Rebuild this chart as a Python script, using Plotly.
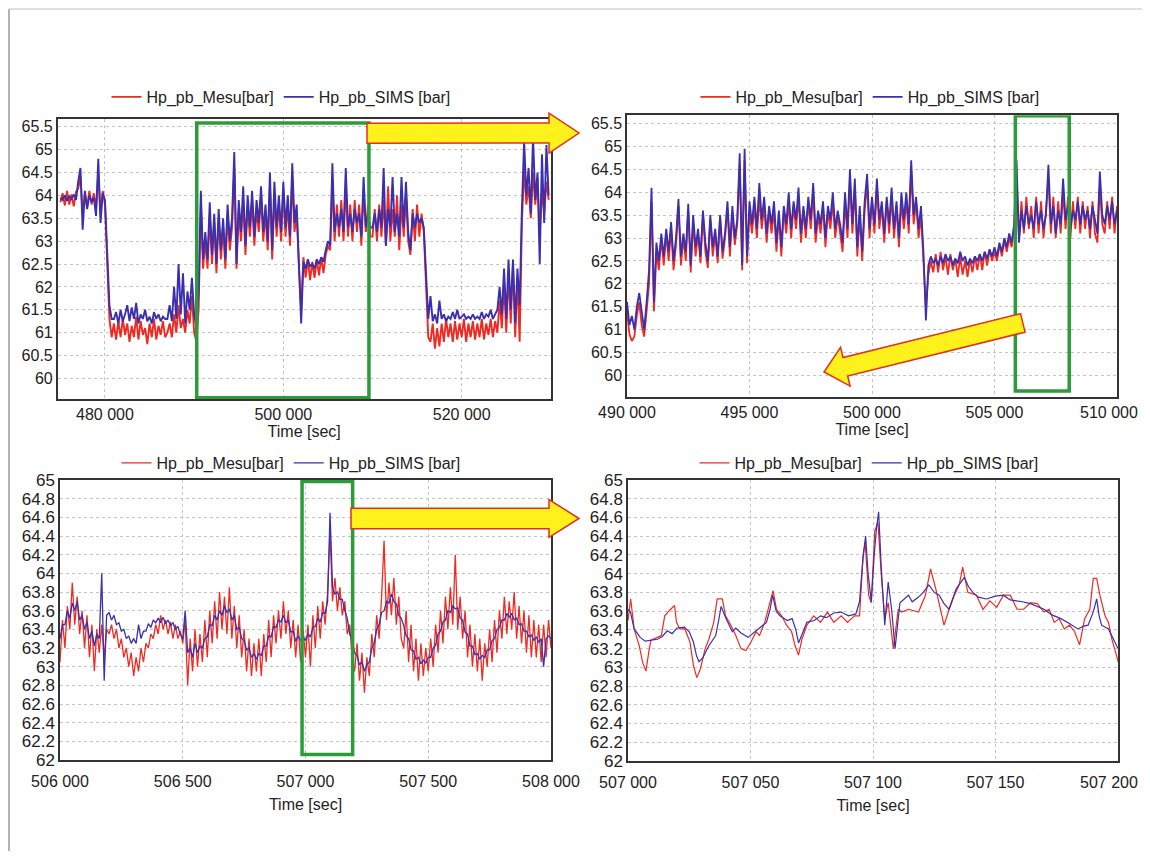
"""
Hp_pb pressure: measured vs SIMS, four successive zoom levels
"""

import math

import numpy as np
import plotly.graph_objects as go

# the page body keeps its 8 px margin, so the figure is drawn 8 px in
PAGE_W, PAGE_H, BODY = 1150, 859, 8
W, H = PAGE_W - BODY, PAGE_H - 2 * BODY
FONT = 'Liberation Sans, Arial, sans-serif'
RED = '#ee2a22'
BLUE = '#3a2fae'
GREEN = '#2c9c3a'
YELLOW = '#fff21c'
ARROW_EDGE = '#e3301c'
MESU_NAME = 'Hp_pb_Mesu[bar]'
SIMS_NAME = 'Hp_pb_SIMS [bar]'

# ---------------------------------------------------------------- panel 1
# 475 000 .. 529 750 s, one sample every 250 s
T1_START, T1_STEP = 475000, 250
mesu1 = [
    63.85, 64.05, 63.78, 64.1, 63.8, 64.02, 63.76, 64.08, 64.15, 64.4,
    63.6, 64.05, 63.75, 64.1, 63.8, 64.05, 63.7, 64.5, 63.6, 64.1,
    63.8, 62.6, 61.3, 60.9,
    61.2, 60.85, 61.25, 60.9, 61.3, 60.95, 61.2, 60.8, 61.15, 60.9, 61.35, 60.85,
    61.25, 60.95, 61.1, 60.75, 61.2, 60.9, 61.3, 60.85, 61.15, 60.95, 61.25, 60.9,
    61.0, 61.2, 60.9, 61.4, 61.0, 61.6, 61.1, 61.3, 61.0, 61.5, 61.2, 61.8,
    61.0, 60.8, 61.5, 63.8,
    62.4, 63.0, 62.4, 63.6, 62.5, 63.4, 62.3, 63.5, 62.6, 63.3, 62.4, 63.6, 62.8, 63.3,
    64.6, 62.4,
    63.7, 63.0, 63.9, 62.7, 63.8, 63.1, 63.9, 62.9, 63.7, 63.2, 64.0, 63.0, 63.6, 62.8,
    64.2, 62.6, 64.0, 63.1, 63.8, 63.0, 64.1, 63.1, 63.8, 62.9, 64.4, 63.2, 63.6,
    62.4, 61.5,
    62.65, 62.2, 62.6, 62.15, 62.55, 62.2, 62.6, 62.25, 62.65, 62.3,
    62.7, 62.9, 62.8,
    64.3,
    63.0, 63.8, 63.1, 63.9, 63.0, 64.2, 63.1, 63.8, 63.0, 63.9, 63.2, 63.8, 62.9, 64.1,
    63.2, 63.8, 63.1,
    63.1, 63.7, 63.0, 63.8, 63.1, 63.9, 62.9, 64.2, 63.0, 63.7, 63.1, 64.0,
    62.8, 63.8, 63.1, 64.0, 63.0, 62.7, 63.7, 63.0, 63.8, 63.1, 63.6, 63.2,
    62.0, 60.9,
    60.8, 61.2, 60.65, 61.1, 60.7, 61.2, 60.8, 61.3, 60.9, 61.2, 60.8, 61.25, 60.85, 61.2, 60.9,
    61.3, 60.8, 61.2, 60.9, 61.25, 60.85, 61.2, 60.9, 61.3, 60.85, 61.2, 60.95, 61.3, 60.9, 61.25,
    61.0, 61.7, 61.1, 62.1, 61.0, 62.3, 61.2, 62.5, 60.9, 62.2, 60.8,
    63.4, 64.6, 63.8,
    64.2, 63.5, 64.5, 63.8, 64.4, 63.2, 64.1, 63.6, 64.3, 63.9,
]
sims1 = [
    63.95, 63.9, 64.0, 63.88, 63.98, 63.92, 64.02, 63.9, 64.3, 64.6,
    63.25, 64.1, 63.7, 64.0, 63.85, 63.95, 63.55, 64.8, 63.4, 64.05,
    63.9, 62.8, 61.6, 61.3,
    61.3, 61.45, 61.2, 61.5, 61.25, 61.4, 61.6, 61.25, 61.55, 61.3, 61.65, 61.2,
    61.4, 61.3, 61.5, 61.25, 61.35, 61.2, 61.45, 61.3, 61.4, 61.25, 61.35, 61.3,
    61.3, 61.6, 61.25, 62.0, 61.3, 62.5, 61.4, 62.3, 61.2, 61.9, 61.5, 62.2,
    61.4, 61.1, 61.9, 64.1,
    62.6, 63.2, 62.6, 63.85, 62.7, 63.6, 62.5, 63.7, 62.8, 63.5, 62.6, 63.8, 63.0, 63.5,
    64.95, 62.5,
    63.9, 63.2, 64.2, 62.9, 64.0, 63.3, 64.1, 63.1, 63.9, 63.4, 64.2, 63.2, 63.8, 63.0,
    64.5, 62.8, 64.3, 63.3, 64.0, 63.2, 64.3, 63.3, 64.0, 63.1, 64.7, 63.4, 63.8,
    62.5, 61.2,
    62.55, 62.4, 62.6, 62.45, 62.5, 62.4, 62.6, 62.5, 62.65, 62.55,
    62.8, 63.0, 62.9,
    64.7,
    63.2, 63.6, 63.3, 63.7, 63.2, 64.6, 63.3, 63.6, 63.2, 63.7, 63.4, 63.6, 63.1, 64.4,
    63.3, 63.6, 63.3,
    63.3, 63.6, 63.2, 63.7, 63.3, 64.6, 62.9, 63.7, 63.3, 64.4, 63.2, 63.6,
    63.1, 64.4, 63.3, 64.3, 63.2, 62.8, 63.6, 63.3, 63.6, 63.4, 63.5, 63.3,
    62.2, 61.3,
    61.8, 61.25, 61.4, 61.2, 61.7, 61.3, 61.4, 61.25, 61.35, 61.3, 61.45, 61.3, 61.5, 61.3, 61.35,
    61.4, 61.3, 61.35, 61.3, 61.4, 61.3, 61.35, 61.3, 61.45, 61.3, 61.4, 61.35, 61.5, 61.3, 61.4,
    61.5, 62.0, 61.4, 62.4, 61.3, 62.6, 61.5, 62.6, 61.2, 62.4, 61.6,
    63.7, 65.2, 64.0,
    64.6, 63.6, 65.3, 63.9, 64.5, 62.5, 64.9, 63.4, 65.1, 64.0,
]

# ---------------------------------------------------------------- panel 2
# 489 800 .. 510 200 s, one sample every 100 s
T2_START, T2_STEP = 489800, 100
mesu2 = [
    61.6, 61.1, 61.4, 60.9, 60.75, 60.85, 61.3, 61.6, 61.1, 60.85, 61.4, 62.0,
    63.8, 61.4,
    62.7, 62.3, 63.0, 62.4, 63.1, 62.5, 63.2, 62.3, 62.85, 63.7, 62.4, 63.0,
    62.5, 63.6, 62.25, 63.35, 62.6, 63.1, 62.45, 63.5, 62.7, 62.35, 63.4, 62.6,
    63.1, 62.45, 63.45, 62.55, 63.0, 63.65, 62.6, 63.55, 62.85, 63.3,
    64.6, 62.3, 64.7, 62.45, 63.6,
    63.1, 63.7, 63.0, 63.9, 63.2, 63.7, 62.9, 63.6, 63.1,
    63.6, 62.7, 63.5, 62.6, 63.6, 63.1, 63.8, 63.0, 63.7,
    63.2, 63.9, 62.9, 63.6, 63.0, 63.8, 63.2, 64.0, 62.9,
    63.5, 63.1, 63.7, 62.8, 63.6, 63.2, 63.8, 63.0, 63.5,
    63.1, 62.7, 63.8, 63.0, 64.3, 63.1, 64.1, 62.6, 63.5,
    62.5, 63.6, 64.2, 63.0, 63.8, 63.1, 64.1, 63.2, 63.7,
    62.9, 63.8, 63.1, 63.9, 63.0, 63.7, 62.8, 63.8, 63.2,
    63.8, 63.1, 64.5, 63.3, 63.8, 63.0, 63.5, 62.5, 61.5,
    62.2, 62.5, 62.25,
    62.65, 62.25, 62.7, 62.3, 62.6, 62.2, 62.65, 62.3, 62.55, 62.15, 62.6, 62.2,
    62.5, 62.15, 62.55, 62.25, 62.6, 62.3, 62.65, 62.3, 62.7, 62.4, 62.75, 62.5,
    62.7, 62.5, 62.85, 62.6, 62.95, 62.7, 63.0, 62.8, 63.2,
    64.3,
    63.0, 63.8, 63.1, 63.9, 63.2, 63.7, 63.0, 63.9, 63.1, 63.8, 63.0, 63.6, 64.3, 63.1,
    63.9, 63.0, 63.8, 63.1, 64.0, 63.2, 63.9, 63.0, 63.8, 63.2, 63.9, 63.1, 63.8, 63.2,
    63.7, 63.0, 63.8, 63.1, 62.9, 64.1, 63.3, 63.1, 63.8, 63.2, 63.9, 63.1, 63.7, 63.0, 63.4,
]
sims2 = [
    61.8, 61.3, 61.6, 61.1, 61.3, 61.0, 61.5, 61.8, 61.4, 61.0, 61.6, 62.3,
    64.1, 61.6,
    62.9, 62.5, 63.1, 62.6, 63.2, 62.7, 63.35, 62.5, 63.0, 63.85, 62.6, 63.1,
    62.7, 63.75, 62.4, 63.5, 62.8, 63.2, 62.6, 63.6, 62.9, 62.5, 63.5, 62.8,
    63.2, 62.6, 63.5, 62.7, 63.1, 63.8, 62.8, 63.7, 63.0, 63.4,
    64.85, 62.4, 64.95, 62.6, 63.8,
    63.3, 63.9, 63.2, 64.2, 63.4, 63.9, 63.1, 63.7, 63.3,
    63.8, 62.9, 63.6, 62.8, 63.7, 63.3, 64.0, 63.2, 63.8,
    63.4, 64.1, 63.1, 63.7, 63.2, 63.9, 63.4, 64.2, 63.1,
    63.6, 63.3, 63.8, 63.0, 63.7, 63.4, 64.0, 63.2, 63.6,
    63.3, 62.9, 64.0, 63.2, 64.5, 63.3, 64.3, 62.8, 63.7,
    62.7, 63.8, 64.4, 63.2, 63.9, 63.3, 64.3, 63.4, 63.8,
    63.1, 63.9, 63.3, 64.1, 63.2, 63.8, 63.0, 64.0, 63.4,
    64.0, 63.3, 64.7, 63.5, 63.9, 63.2, 63.7, 62.7, 61.2,
    62.4, 62.6, 62.45,
    62.55, 62.4, 62.6, 62.45, 62.65, 62.5, 62.6, 62.4, 62.55, 62.45, 62.7, 62.5,
    62.6, 62.4, 62.55, 62.45, 62.6, 62.5, 62.65, 62.5, 62.7, 62.55, 62.75, 62.6,
    62.8, 62.6, 62.9, 62.7, 63.0, 62.8, 63.1, 62.9, 63.3,
    64.7,
    62.9, 63.6, 63.2, 63.7, 63.3, 63.5, 63.2, 63.8, 63.3, 63.6, 63.2, 63.5, 64.6, 63.3,
    63.7, 63.1, 63.6, 63.3, 64.3, 63.4, 63.7, 63.2, 63.6, 63.4, 63.8, 63.3, 63.7, 63.4,
    63.6, 63.2, 63.7, 63.4, 63.1, 64.45, 63.5, 63.3, 63.7, 63.4, 63.8, 63.3, 63.6, 63.2, 63.5,
]

# ---------------------------------------------------------------- panel 3
# 506 000 .. 508 000 s, one sample every 10 s
T3_START, T3_STEP = 506000, 10
mesu3 = [
    63.05, 63.5, 63.2, 63.65, 63.4, 63.9, 63.45, 63.75, 63.35, 63.6,
    63.2, 63.55, 63.1, 63.45, 62.95, 63.4, 63.15, 63.45, 63.1, 63.4,
    63.35, 63.45, 63.3, 63.4, 63.2, 63.3, 63.1, 63.2, 63.0, 63.15,
    62.9, 63.1, 62.95, 63.2, 63.05, 63.25, 63.2, 63.35, 63.3, 63.45,
    63.35, 63.55, 63.4, 63.5, 63.35, 63.48, 63.3, 63.45, 63.3, 63.38,
    63.25, 63.5, 62.8, 63.3, 62.95, 63.4, 63.0, 63.35, 63.05, 63.5,
    63.1, 63.6, 63.25, 63.7, 63.3, 63.8, 63.4, 63.75, 63.35, 63.85,
    63.3, 63.65, 63.2, 63.55, 63.1, 63.4, 62.95, 63.3, 62.9, 63.25,
    62.95, 63.3, 62.9, 63.35, 63.05, 63.5, 63.1, 63.55, 63.25, 63.6,
    63.3, 63.7, 63.35, 63.6, 63.2, 63.5, 63.1, 63.45, 63.05, 63.4,
    63.1, 63.45, 63.0, 63.55, 63.2, 63.65, 63.3, 63.7, 63.45, 63.8,
    64.45, 63.7, 63.95, 63.6, 63.85, 63.55, 63.7, 63.35, 63.45, 63.1,
    62.95, 63.25, 62.85, 63.15, 62.72, 63.1, 62.9, 63.35, 63.1, 63.55,
    63.3, 63.75, 64.35, 63.5, 63.9, 63.55, 63.95, 63.45, 63.75, 63.3,
    63.2, 63.6, 63.05, 63.45, 62.95, 63.3, 62.85, 63.25, 62.9, 63.2,
    62.95, 63.3, 63.0, 63.45, 63.15, 63.6, 63.25, 63.75, 63.4, 63.85,
    63.45, 64.2, 63.4, 63.75, 63.3, 63.6, 63.1, 63.45, 63.0, 63.35,
    62.95, 63.3, 62.85, 63.25, 63.0, 63.4, 63.05, 63.5, 63.15, 63.6,
    63.3, 63.75, 63.35, 63.7, 63.4, 63.8, 63.3, 63.65, 63.25, 63.6,
    63.15, 63.55, 63.1, 63.5, 63.1, 63.45, 63.05, 63.45, 63.1, 63.5, 63.2,
]
sims3 = [
    63.3, 63.45, 63.45, 63.6, 63.52, 63.68, 63.6, 63.7, 63.5, 63.55,
    63.4, 63.48, 63.3, 63.38, 63.22, 63.35, 63.3, 64.0, 62.85, 63.55,
    63.58, 63.5, 63.55, 63.45, 63.47, 63.38, 63.4, 63.3, 63.33, 63.25,
    63.3, 63.25, 63.45, 63.3, 63.38, 63.38, 63.46, 63.42, 63.5, 63.47,
    63.52, 63.47, 63.53, 63.46, 63.5, 63.44, 63.47, 63.4, 63.43, 63.35,
    63.3, 63.6, 63.15, 63.2, 63.1, 63.25, 63.15, 63.22, 63.2, 63.3,
    63.32, 63.45, 63.44, 63.55, 63.5, 63.6, 63.55, 63.65, 63.58, 63.62,
    63.5, 63.55, 63.4, 63.42, 63.3, 63.28, 63.18, 63.2, 63.1, 63.14,
    63.08, 63.14, 63.12, 63.22, 63.22, 63.33, 63.32, 63.43, 63.42, 63.5,
    63.48, 63.55, 63.47, 63.5, 63.37, 63.38, 63.27, 63.33, 63.28, 63.32,
    63.28, 63.35, 63.32, 63.42, 63.43, 63.52, 63.48, 63.58, 63.57, 63.7,
    64.65, 63.85, 63.78, 63.8, 63.72, 63.72, 63.6, 63.52, 63.35, 63.28,
    63.15, 63.12, 63.02, 63.05, 62.95, 63.02, 63.05, 63.2, 63.25, 63.4,
    63.45, 63.58, 63.6, 63.7, 63.68, 63.78, 63.7, 63.67, 63.55, 63.52,
    63.44, 63.33, 63.3, 63.18, 63.17, 63.08, 63.1, 63.03, 63.07, 63.04,
    63.1, 63.1, 63.2, 63.23, 63.35, 63.38, 63.48, 63.5, 63.6, 63.58,
    63.65, 63.62, 63.63, 63.52, 63.5, 63.37, 63.35, 63.22, 63.22, 63.13,
    63.14, 63.08, 63.12, 63.1, 63.18, 63.18, 63.28, 63.3, 63.4, 63.42,
    63.5, 63.5, 63.57, 63.53, 63.57, 63.5, 63.52, 63.45, 63.46, 63.38,
    63.38, 63.32, 63.34, 63.28, 63.32, 63.26, 63.3, 63.0, 63.3, 63.33, 63.3,
]

# ---------------------------------------------------------------- panel 4
# 507 000 .. 507 200 s, samples
t4_mesu = [
    507000, 507001.1, 507002.5, 507004.6, 507006, 507007.3, 507008.7, 507009.4, 507013.6, 507015,
    507017, 507019, 507019.8, 507021.2, 507023.2, 507025.3, 507026.7, 507028.1, 507029.5, 507031.5,
    507033, 507035, 507036.4, 507038.5, 507039.8, 507042, 507044, 507046.1, 507048.1, 507050.2,
    507052.3, 507053.7, 507055.8, 507058, 507059.2, 507060.6, 507062.7, 507064.7, 507066.8, 507068.2,
    507069.6, 507071, 507073, 507075.8, 507078.6, 507081.4, 507084, 507087, 507089.6, 507092.4,
    507094.5, 507095.9, 507096.8, 507098.2, 507099.3, 507100.7, 507102, 507103.4, 507104.8, 507106.2,
    507108.3, 507110.3, 507111.7, 507114.5, 507118.6, 507121.4, 507123.5, 507125.6, 507127.6, 507129,
    507131.1, 507133.2, 507135.2, 507136.6, 507138.7, 507142.2, 507144.9, 507147.7, 507150.5, 507153.2,
    507156, 507158.8, 507161.5, 507164.3, 507167, 507169.8, 507171.9, 507174, 507176, 507178.1,
    507180.2, 507182.3, 507184.3, 507186.4, 507188.5, 507189.9, 507191.3, 507192.6, 507194.7, 507196.1,
    507197.5, 507198.9, 507200.2,
]
mesu4 = [
    63.5, 63.73, 63.41, 63.23, 63.05, 62.96, 63.2, 63.29, 63.34, 63.55,
    63.61, 63.66, 63.48, 63.41, 63.41, 63.27, 63.02, 62.89, 62.98, 63.2,
    63.3, 63.48, 63.73, 63.73, 63.55, 63.45, 63.34, 63.2, 63.18, 63.27,
    63.38, 63.34, 63.48, 63.7, 63.82, 63.62, 63.55, 63.45, 63.38, 63.23,
    63.13, 63.3, 63.45, 63.55, 63.48, 63.59, 63.48, 63.55, 63.48, 63.55,
    63.55, 64.16, 64.34, 63.77, 63.69, 64.45, 64.55, 63.98, 63.52, 63.69,
    63.2, 63.62, 63.59, 63.62, 63.59, 63.77, 64.05, 63.84, 63.62, 63.45,
    63.62, 63.77, 63.88, 64.07, 63.8, 63.77, 63.62, 63.71, 63.64, 63.77,
    63.77, 63.62, 63.62, 63.69, 63.68, 63.59, 63.62, 63.48, 63.52, 63.41,
    63.45, 63.38, 63.24, 63.52, 63.62, 63.95, 63.95, 63.77, 63.55, 63.48,
    63.3, 63.16, 63.05,
]
t4_sims = [
    507000, 507001, 507002.5, 507005, 507007, 507009.5, 507012, 507014, 507016, 507018,
    507020, 507023, 507025, 507026.7, 507028, 507029, 507030.5, 507033, 507035.8, 507037,
    507038, 507040, 507042.6, 507044, 507046, 507049, 507051, 507053, 507056.5, 507058,
    507059, 507060.5, 507062, 507065, 507067, 507068.5, 507069.6, 507071, 507073, 507076,
    507078.6, 507081, 507084, 507087, 507090, 507093, 507094.5, 507096, 507097, 507098,
    507099.3, 507100.5, 507101.4, 507102.3, 507103.4, 507104.8, 507106.2, 507107.6, 507109, 507111,
    507114.5, 507116, 507118.6, 507120.5, 507122.8, 507125, 507127, 507129, 507131, 507134,
    507137.3, 507139, 507140.8, 507143, 507146.3, 507150, 507153.2, 507156, 507158.8, 507161,
    507164.3, 507167, 507169.8, 507173, 507176.7, 507180, 507183.6, 507186, 507187.8, 507190,
    507191.3, 507192.3, 507193.3, 507196.1, 507198.9, 507200,
]
sims4 = [
    63.62, 63.59, 63.41, 63.32, 63.28, 63.29, 63.3, 63.33, 63.39, 63.36,
    63.42, 63.43, 63.38, 63.27, 63.12, 63.06, 63.1, 63.23, 63.34, 63.5,
    63.65, 63.52, 63.38, 63.42, 63.37, 63.32, 63.36, 63.41, 63.48, 63.62,
    63.77, 63.6, 63.55, 63.5, 63.52, 63.4, 63.26, 63.35, 63.48, 63.5,
    63.55, 63.53, 63.58, 63.59, 63.55, 63.57, 63.7, 64.2, 64.4, 64.0,
    63.7, 64.2, 64.48, 64.66, 64.05, 63.45, 63.91, 63.62, 63.2, 63.69,
    63.77, 63.7, 63.75, 63.8, 63.88, 63.8, 63.77, 63.68, 63.62, 63.84,
    63.96, 63.86, 63.8, 63.75, 63.73, 63.76, 63.77, 63.72, 63.71, 63.7,
    63.68, 63.65, 63.62, 63.56, 63.52, 63.47, 63.41, 63.44, 63.45, 63.6,
    63.73, 63.55, 63.45, 63.41, 63.27, 63.2,
]

# ---------------------------------------------------------------- ticks
x1_ticks = [480000, 500000, 520000]
x2_ticks = [490000, 495000, 500000, 505000, 510000]
x3_ticks = [506000, 506500, 507000, 507500, 508000]
x4_ticks = [507000, 507050, 507100, 507150, 507200]
y_top_ticks = [60, 60.5, 61, 61.5, 62, 62.5, 63, 63.5, 64, 64.5, 65, 65.5]
y_bot_ticks = [62, 62.2, 62.4, 62.6, 62.8, 63, 63.2, 63.4, 63.6, 63.8, 64,
               64.2, 64.4, 64.6, 64.8, 65]

# zoom windows shown as green boxes (time span, pressure span)
zoom1 = ([490290, 509600], [59.58, 65.58])
zoom2 = ([505850, 508050], [59.66, 65.67])
zoom3 = ([506986, 507192], [62.06, 64.985])


def sample_times(start, step, values):
    """Uniform sample instants for a series read at a fixed step."""
    return start + step * np.arange(len(values))


def fx(x):
    """Page pixel column -> paper fraction."""
    return (x - BODY) / W


def fy(y):
    """Page pixel row -> paper fraction."""
    return 1 - (y - BODY) / H


def dom_x(left, right):
    return [fx(left), fx(right)]


def dom_y(top, bottom):
    return [fy(bottom), fy(top)]


def fmt_time(v):
    return f"{v:,}".replace(',', ' ')


def time_labels(ticks, drop_last=False):
    """'480 000' style labels; the last one can be left to an edge-aligned note."""
    labels = [fmt_time(v) for v in ticks]
    if drop_last:
        labels[-1] = ''
    return labels


def axis(domain, rng, ticks, labels, anchor, size=16, **extra):
    base = dict(
        domain=domain, range=rng, anchor=anchor, automargin=False,
        tickvals=ticks, ticktext=labels,
        showline=True, linecolor='#333333', linewidth=1.5, mirror=True,
        showgrid=True, gridcolor='#c4c4c4', griddash='dot', gridwidth=1,
        zeroline=False, ticks='',
        tickfont=dict(size=size, color='#222222', family=FONT),
    )
    base.update(extra)
    return base


def time_title(standoff):
    return dict(text='Time [sec]', font=dict(size=16, color='#222222', family=FONT),
                standoff=standoff)


def arrow_path(tail, tip, body_half, head_half, head_len):
    """Block arrow polygon, given in page pixels, returned as a paper path."""
    (x0, y0), (x1, y1) = tail, tip
    length = math.hypot(x1 - x0, y1 - y0)
    ux, uy = (x1 - x0) / length, (y1 - y0) / length
    nx, ny = -uy, ux
    bx, by = x1 - ux * head_len, y1 - uy * head_len
    pts = [
        (x0 + nx * body_half, y0 + ny * body_half),
        (bx + nx * body_half, by + ny * body_half),
        (bx + nx * head_half, by + ny * head_half),
        (x1, y1),
        (bx - nx * head_half, by - ny * head_half),
        (bx - nx * body_half, by - ny * body_half),
        (x0 - nx * body_half, y0 - ny * body_half),
    ]
    return 'M ' + ' L '.join(f'{fx(x):.5f},{fy(y):.5f}' for x, y in pts) + ' Z'


fig = go.Figure()

panels = [
    (sample_times(T1_START, T1_STEP, mesu1), mesu1,
     sample_times(T1_START, T1_STEP, sims1), sims1, 'x', 'y', 'legend', 1.9),
    (sample_times(T2_START, T2_STEP, mesu2), mesu2,
     sample_times(T2_START, T2_STEP, sims2), sims2, 'x2', 'y2', 'legend2', 1.8),
    (sample_times(T3_START, T3_STEP, mesu3), mesu3,
     sample_times(T3_START, T3_STEP, sims3), sims3, 'x3', 'y3', 'legend3', 1.3),
    (t4_mesu, mesu4, t4_sims, sims4, 'x4', 'y4', 'legend4', 1.2),
]

for tm, ym, ts, ys, xa, ya, leg, lw in panels:
    fig.add_trace(go.Scatter(x=tm, y=ym, mode='lines', name=MESU_NAME, legend=leg,
                             xaxis=xa, yaxis=ya, line=dict(color=RED, width=lw)))
    fig.add_trace(go.Scatter(x=ts, y=ys, mode='lines', name=SIMS_NAME, legend=leg,
                             xaxis=xa, yaxis=ya, line=dict(color=BLUE, width=lw)))

y_top_labels = [f'{v:g}' for v in y_top_ticks]
y_bot_labels = [f'{v:g}' for v in y_bot_ticks]

legend_style = dict(orientation='h', xanchor='center', yanchor='middle',
                    bgcolor='rgba(0,0,0,0)', itemwidth=30,
                    font=dict(size=16, color='#222222', family=FONT))

shapes = []
for (xr, yr), xref, yref in [(zoom1, 'x', 'y'), (zoom2, 'x2', 'y2'), (zoom3, 'x3', 'y3')]:
    shapes.append(dict(type='rect', xref=xref, yref=yref,
                       x0=xr[0], x1=xr[1], y0=yr[0], y1=yr[1],
                       line=dict(color=GREEN, width=3.5), fillcolor='rgba(0,0,0,0)'))

for tail, tip, body, head, hlen in [
    ((367, 133.3), (579, 133), 10, 20, 30),
    ((351, 518.5), (579, 518.5), 10.3, 19, 30),
    ((1022.8, 322.9), (824, 372), 9.5, 20, 22),
]:
    shapes.append(dict(type='path', xref='paper', yref='paper',
                       path=arrow_path(tail, tip, body, head, hlen),
                       fillcolor=YELLOW, line=dict(color=ARROW_EDGE, width=1.5)))

# scanned page frame
shapes.append(dict(type='line', xref='paper', yref='paper', x0=fx(9), x1=fx(9),
                   y0=0, y1=fy(9), line=dict(color='#9a9a9a', width=1.5)))
shapes.append(dict(type='line', xref='paper', yref='paper', x0=fx(9), x1=1,
                   y0=fy(9), y1=fy(9), line=dict(color='#c0c0c0', width=1)))

# the right-most time labels sit against the page edge, so they are right-aligned
edge_labels = [
    dict(text=fmt_time(x2_ticks[-1]), xref='paper', yref='paper',
         x=fx(1140), y=fy(412), xanchor='right', yanchor='middle', showarrow=False,
         font=dict(size=16, color='#222222', family=FONT)),
    dict(text=fmt_time(x4_ticks[-1]), xref='paper', yref='paper',
         x=fx(1140), y=fy(782), xanchor='right', yanchor='middle', showarrow=False,
         font=dict(size=16, color='#222222', family=FONT)),
]

fig.update_layout(
    width=W, height=H, autosize=False,
    margin=dict(l=0, r=0, t=0, b=0, pad=0, autoexpand=False),
    paper_bgcolor='white', plot_bgcolor='white',
    font=dict(family=FONT, color='#222222'),
    xaxis=axis(dom_x(57.7, 550.7), [474700, 529980], x1_ticks,
               time_labels(x1_ticks), 'y', title=time_title(4)),
    yaxis=axis(dom_y(119, 399), [59.55, 65.67], y_top_ticks, y_top_labels, 'x'),
    xaxis2=axis(dom_x(627, 1117), [490000, 510000], x2_ticks,
                time_labels(x2_ticks, True), 'y2', title=time_title(4)),
    yaxis2=axis(dom_y(115.3, 397), [59.53, 65.68], y_top_ticks, y_top_labels, 'x2'),
    xaxis3=axis(dom_x(60, 551), [506000, 508000], x3_ticks,
                time_labels(x3_ticks), 'y3', title=time_title(10),
                ticklabelstandoff=6),
    yaxis3=axis(dom_y(480, 760), [62, 65], y_bot_ticks, y_bot_labels, 'x3', size=17),
    xaxis4=axis(dom_x(628, 1118), [507000, 507200], x4_ticks,
                time_labels(x4_ticks, True), 'y4', title=time_title(10),
                ticklabelstandoff=6),
    yaxis4=axis(dom_y(480, 761), [62, 65], y_bot_ticks, y_bot_labels, 'x4', size=17),
    legend=dict(legend_style, x=fx(281), y=fy(97)),
    legend2=dict(legend_style, x=fx(870), y=fy(97)),
    legend3=dict(legend_style, x=fx(291), y=fy(463)),
    legend4=dict(legend_style, x=fx(869), y=fy(463)),
    annotations=edge_labels,
    shapes=shapes,
)

fig.write_html("out.html")
